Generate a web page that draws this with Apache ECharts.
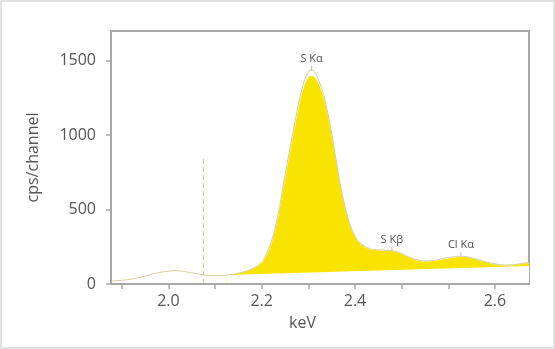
<!DOCTYPE html>
<html>
<head>
<meta charset="utf-8">
<script src="https://cdn.jsdelivr.net/npm/echarts@6/dist/echarts.min.js"></script>
<style>
  html, body { margin: 0; padding: 0; background: #fff; }
  #wrap { position: relative; width: 555px; height: 349px; }
  #chart { width: 555px; height: 349px; }
  #frame { position: absolute; left: 0; top: 0; width: 555px; height: 349px;
           box-sizing: border-box; border: 2px solid #e2e2e2; pointer-events: none; }
</style>
</head>
<body>
<div id="wrap">
  <div id="chart"></div>
  <div id="frame"></div>
</div>
<script>
// measured spectrum (outline), keV / cps per channel
const specKeV = [1.877, 1.91, 1.94, 1.975, 2.0, 2.015, 2.03, 2.05, 2.075, 2.09, 2.105,
  2.125, 2.14, 2.155, 2.17, 2.185, 2.195, 2.205, 2.215, 2.225, 2.236, 2.246, 2.257, 2.268,
  2.279, 2.289, 2.298, 2.306, 2.314, 2.322, 2.33, 2.338, 2.346, 2.355, 2.364, 2.373, 2.382,
  2.391, 2.4, 2.41, 2.42, 2.43, 2.44, 2.46, 2.479, 2.495, 2.51, 2.53, 2.55, 2.57, 2.59,
  2.61, 2.627, 2.645, 2.67, 2.695, 2.72, 2.745, 2.773];
const specCps = [20, 28, 45, 74, 86, 90, 86, 75, 62, 57, 56,
  60, 66, 76, 90, 112, 135, 172, 238, 330, 480, 660, 850, 1035,
  1210, 1340, 1415, 1438, 1422, 1370, 1300, 1205, 1080, 920, 750, 600, 475,
  385, 322, 280, 255, 240, 232, 228, 224, 212, 190, 165, 155, 160, 172,
  182, 186, 180, 158, 138, 128, 132, 146];

// net peak area (yellow), upper edge
const netKeV = [2.125, 2.14, 2.155, 2.17, 2.185, 2.195, 2.205, 2.215, 2.225, 2.236, 2.246,
  2.257, 2.268, 2.279, 2.289, 2.298, 2.306, 2.314, 2.322, 2.33, 2.338, 2.346, 2.355, 2.364,
  2.373, 2.382, 2.391, 2.4, 2.41, 2.42, 2.43, 2.44, 2.46, 2.479, 2.495, 2.51, 2.53, 2.55,
  2.57, 2.59, 2.61, 2.627, 2.645, 2.67, 2.695, 2.72, 2.745, 2.773];
const netCps = [60, 66, 76, 89, 108, 128, 162, 224, 312, 460, 635,
  822, 1005, 1180, 1308, 1378, 1400, 1388, 1345, 1280, 1190, 1068, 910, 742,
  594, 470, 380, 318, 276, 251, 236, 228, 224, 220, 208, 186, 161, 151,
  155, 166, 176, 181, 176, 154, 134, 124, 128, 142];

// background line under the peaks
const bgKeV = [2.125, 2.773];
const bgCps = [60, 121];

// peak labels
const peakNames = ['S K\u03b1', 'S K\u03b2', 'Cl K\u03b1'];
const peakKeV = [2.307, 2.479, 2.627];
const peakCps = [1438, 224, 186];

// dashed marker
const markerKeV = 2.074;
const markerTop = 855;

const xTickValues = [1.9, 2.0, 2.1, 2.2, 2.3, 2.4, 2.5, 2.6, 2.7];
const xLabelValues = [2.0, 2.2, 2.4, 2.7];
const xLabelTexts = ['2.0', '2.2', '2.4', '2.6'];
const yTickValues = [0, 500, 1000, 1500];

const FONT = '"Open Sans", "Noto Sans", sans-serif';
const AXIS = '#a8a8a8';
const TEXT = '#555';

const pairs = (xs, ys) => xs.map((x, i) => [x, ys[i]]);

const option = {
  animation: false,
  textStyle: { fontFamily: FONT },
  grid: { left: 111, right: 26, top: 31, bottom: 65, show: true, borderColor: AXIS, borderWidth: 2 },
  xAxis: {
    type: 'value', min: 1.877, max: 2.773, z: 6,
    name: 'keV', nameLocation: 'middle', nameGap: 31,
    nameTextStyle: { fontSize: 16, color: TEXT, padding: [0, 35, 0, 0] },
    axisLine: { show: true, lineStyle: { color: AXIS, width: 2 } },
    axisTick: { show: true, length: 5, customValues: xTickValues, lineStyle: { color: AXIS, width: 1.5 } },
    axisLabel: {
      customValues: xLabelValues, fontSize: 16, color: TEXT, margin: 9,
      formatter: v => {
        const i = xLabelValues.findIndex(t => Math.abs(t - v) < 1e-6);
        return i < 0 ? '' : xLabelTexts[i];
      }
    },
    splitLine: { show: false }
  },
  yAxis: {
    type: 'value', min: 0, max: 1700, z: 6,
    name: 'cps/channel', nameLocation: 'middle', nameGap: 70,
    nameTextStyle: { fontSize: 16, color: TEXT },
    axisLine: { show: true, lineStyle: { color: AXIS, width: 2 } },
    axisTick: { show: true, length: 5, customValues: yTickValues, lineStyle: { color: AXIS, width: 1.5 } },
    axisLabel: { customValues: yTickValues, fontSize: 16, color: TEXT, margin: 15, formatter: v => String(v) },
    splitLine: { show: false }
  },
  series: [
    {
      name: 'net', type: 'line', z: 2, smooth: 0.4, symbol: 'none',
      data: pairs(netKeV, netCps),
      lineStyle: { width: 0 },
      areaStyle: { color: '#f8e400', opacity: 1 }
    },
    {
      name: 'background', type: 'line', z: 3, symbol: 'none',
      data: pairs(bgKeV, bgCps),
      lineStyle: { width: 0 },
      areaStyle: { color: '#ffffff', opacity: 1 }
    },
    {
      name: 'spectrum', type: 'line', z: 4, smooth: 0.4, symbol: 'none',
      data: pairs(specKeV, specCps),
      lineStyle: { color: '#d6cd9c', width: 1 },
      markLine: {
        silent: true, symbol: 'none', label: { show: false },
        lineStyle: { color: '#d8cc98', width: 1, type: [5, 3] },
        data: [[{ coord: [markerKeV, 0] }, { coord: [markerKeV, markerTop] }]]
      }
    },
    {
      name: 'peaks', type: 'scatter', z: 5,
      symbol: 'rect', symbolSize: [1, 4], symbolOffset: [0, -2],
      itemStyle: { color: '#b5b09a' },
      data: pairs(peakKeV, peakCps),
      label: {
        show: true, position: 'top', distance: 1,
        fontSize: 11, lineHeight: 12, color: '#222',
        formatter: p => peakNames[p.dataIndex]
      }
    }
  ]
};

const chart = echarts.init(document.getElementById('chart'), null, { renderer: 'canvas' });
chart.setOption(option);
</script>
</body>
</html>
